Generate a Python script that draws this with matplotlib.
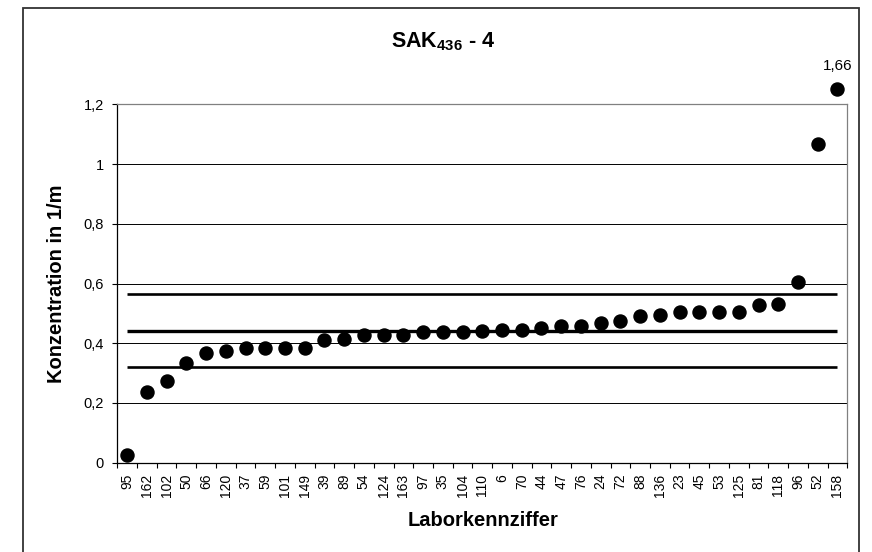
import matplotlib
matplotlib.use('Agg')
import matplotlib.pyplot as plt
from matplotlib.patches import Rectangle

plt.rcParams['font.family'] = ['Liberation Sans', 'DejaVu Sans']
plt.rcParams['mathtext.fontset'] = 'custom'
plt.rcParams['mathtext.bf'] = 'Liberation Sans:bold'
plt.rcParams['mathtext.rm'] = 'Liberation Sans'

# Laborkennziffern (sortiert nach Messwert)
labs = ['95', '162', '102', '50', '66', '120', '37', '59', '101', '149',
        '39', '89', '54', '124', '163', '97', '35', '104', '110', '6',
        '70', '44', '47', '76', '24', '72', '88', '136', '23', '45',
        '53', '125', '81', '118', '96', '52', '158']
werte = [0.026, 0.236, 0.273, 0.335, 0.366, 0.374, 0.383, 0.383, 0.383, 0.383,
         0.411, 0.415, 0.428, 0.428, 0.428, 0.436, 0.436, 0.436, 0.440, 0.444,
         0.444, 0.451, 0.458, 0.458, 0.469, 0.475, 0.490, 0.494, 0.506, 0.506,
         0.506, 0.506, 0.529, 0.533, 0.604, 1.067, 1.66]

mittelwert = 0.44
untere_grenze = 0.32
obere_grenze = 0.565

y_ticks = [0, 0.2, 0.4, 0.6, 0.8, 1.0, 1.2]
y_labels = ['0', '0,2', '0,4', '0,6', '0,8', '1', '1,2']

y_max = 1.2
y_clip = 1.25  # Werte darüber werden oben am Rand gezeichnet

W, H = 872, 552
fig = plt.figure(figsize=(W / 100, H / 100), dpi=100)
ax = fig.add_axes([117.3 / W, (H - 462.7) / H, (847.3 - 117.3) / W, (462.7 - 104.3) / H])

x = list(range(len(labs)))
n = len(labs)

# Gitterlinien
for yt in y_ticks[1:-1]:
    ax.axhline(yt, color='black', lw=0.7, zorder=1)

# Mittelwert und Toleranzgrenzen
ax.plot([0, n - 1], [mittelwert, mittelwert], color='black', lw=2.4, zorder=2, solid_capstyle='butt')
ax.plot([0, n - 1], [untere_grenze, untere_grenze], color='black', lw=1.9, zorder=2, solid_capstyle='butt')
ax.plot([0, n - 1], [obere_grenze, obere_grenze], color='black', lw=1.9, zorder=2, solid_capstyle='butt')

# Messwerte
y_plot = [min(v, y_clip) for v in werte]
ax.plot(x, y_plot, 'o', color='black', markersize=9.4, clip_on=False, zorder=3)

for xi, v, yp in zip(x, werte, y_plot):
    if v > y_max:
        ax.annotate(('%.2f' % v).replace('.', ','), (xi, yp), xytext=(0, 17),
                    textcoords='offset points', ha='center', va='center',
                    fontsize=11, annotation_clip=False)

ax.set_xlim(-0.5, n - 0.5)
ax.set_ylim(0, y_max)

ax.set_yticks(y_ticks)
ax.set_yticklabels(y_labels, fontsize=10.5)
ax.tick_params(axis='y', direction='out', length=3.8, width=0.8, pad=6)

ax.set_xticks(x)
ax.set_xticklabels(labs, rotation=90, fontsize=10)
ax.set_xticks([i - 0.5 for i in range(n + 1)], minor=True)
ax.tick_params(axis='x', which='major', length=0, pad=8)
ax.tick_params(axis='x', which='minor', direction='out', length=3.8, width=0.8)

ax.spines['left'].set_color('black')
ax.spines['bottom'].set_color('black')
ax.spines['top'].set_color('#808080')
ax.spines['right'].set_color('#808080')
for s in ax.spines.values():
    s.set_linewidth(0.9)

fig.text(443 / W, 1 - 42 / H, r'SAK$_\mathbf{436}$ - 4', ha='center', va='center',
         fontsize=15.5, fontweight='bold')
fig.text(483 / W, 1 - 521 / H, 'Laborkennziffer', ha='center', va='center',
         fontsize=14.5, fontweight='bold')
fig.text(56 / W, 1 - 283.5 / H, 'Konzentration in 1/m', ha='center', va='center',
         rotation=90, fontsize=14.5, fontweight='bold')

# Rahmen um das Diagramm
fig.patches.append(Rectangle((23 / W, -0.1), (859 - 23) / W, 1.1 - 8.3 / H,
                             transform=fig.transFigure, fill=False,
                             edgecolor='#333333', lw=1.3))

fig.savefig('out.png', dpi=100)
